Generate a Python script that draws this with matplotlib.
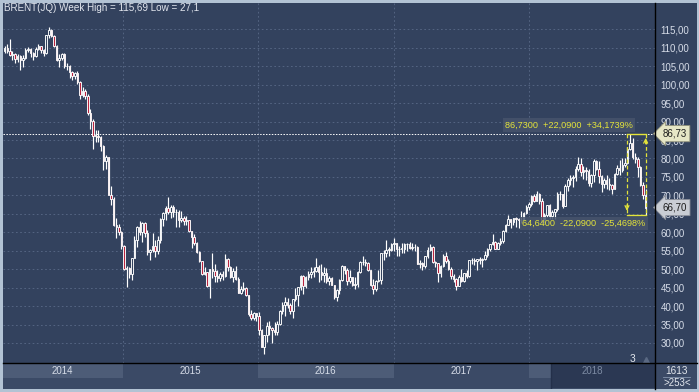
import numpy as np
import pandas as pd
import matplotlib
matplotlib.use("Agg")
import matplotlib.pyplot as plt
import matplotlib.transforms as mtransforms
from matplotlib.patches import Rectangle
from matplotlib.lines import Line2D

W, H = 699, 392

# ---- data: weekly Brent candles, first week starts Monday 2014-02-17 ----
first_week = "2014-02-17"

opens = [
    109.1, 110.0, 109.1, 108.1, 108.4, 106.9, 107.9, 106.7, 107.3, 109.5, 109.6, 108.6, 107.9,
    109.8, 110.5, 109.4, 108.6, 113.4, 114.8, 113.3, 110.6, 106.7, 107.2, 108.4, 105.0, 105.0,
    103.5, 102.3, 103.2, 100.8, 97.1, 98.4, 97.0, 92.3, 90.2, 86.2, 86.1, 85.9, 83.4, 79.4,
    80.4, 70.2, 69.1, 61.9, 61.4,
    60.2, 56.4, 50.1, 50.2, 48.8, 53.0, 57.8, 61.5, 60.2, 62.6, 59.7, 54.7, 55.3, 56.4, 55.0,
    57.9, 63.5, 65.3, 66.5, 65.4, 66.8, 65.4, 65.6, 63.3, 63.9, 63.0, 63.3, 60.3, 58.7, 57.1,
    54.6, 52.2, 48.6, 49.2, 45.5, 50.05, 49.6, 48.1, 47.5, 48.6, 48.1, 52.7, 50.5, 48.0, 49.6,
    47.4, 43.6, 44.7, 44.9, 43.0, 37.9, 36.9,
    38.1, 37.3, 33.6, 28.9, 32.2, 34.7, 34.1, 33.4, 33.0, 35.1, 38.7, 40.4, 41.2, 40.4, 38.7,
    41.9, 43.1, 45.1, 48.1, 45.4, 47.8, 48.7, 49.3, 49.6, 50.5, 49.2, 48.4, 49.0, 46.8, 47.6,
    45.7, 42.5, 44.3, 47.0, 50.9, 49.9, 46.8, 48.0, 45.8, 45.9, 49.2, 51.9, 51.95, 51.8, 49.7,
    45.6, 44.75, 46.9, 47.2, 54.5, 54.3, 55.2, 55.2,
    56.8, 57.1, 55.45, 55.5, 55.5, 56.8, 56.7, 55.8, 56.0, 55.9, 51.4, 51.8, 50.8, 53.5, 55.2,
    55.9, 52.0, 51.7, 49.1, 50.8, 53.6, 52.15, 49.95, 48.15, 47.4, 45.5, 47.9, 46.7, 48.9, 48.1,
    52.5, 52.4, 52.1, 52.7, 52.4, 52.75, 53.8, 55.6, 56.9, 57.5, 55.6, 57.2, 57.75, 60.4, 62.1,
    63.5, 62.7, 63.9, 63.7, 63.4, 63.2, 65.25,
    66.9, 67.6, 69.9, 68.6, 70.5, 68.6, 62.8, 64.8, 67.3, 64.4, 65.5, 66.2, 70.45, 70.3, 67.1,
    72.6, 74.1, 74.6, 74.9, 77.1, 78.5, 76.4, 76.8, 76.5, 73.4, 75.6, 79.4, 77.1, 75.3, 73.1,
    74.3, 73.2, 72.8, 71.8, 75.8, 77.4, 76.8, 78.1, 78.8, 82.7, 84.2, 80.4, 79.8, 77.6, 72.8, 70.2,
]

highs = [
    110.6, 111.0, 112.4, 109.0, 108.5, 108.2, 108.1, 108.0, 110.0, 110.3, 110.0, 108.9, 110.1,
    111.0, 110.6, 109.8, 113.5, 115.69, 115.2, 113.5, 110.7, 108.4, 108.5, 108.7, 106.0, 105.4,
    103.8, 103.3, 103.7, 101.0, 99.3, 98.7, 97.5, 93.4, 90.6, 87.8, 87.6, 86.1, 83.6, 80.9,
    80.5, 72.6, 69.5, 63.8, 62.2,
    60.4, 56.6, 50.8, 50.6, 53.1, 59.1, 61.6, 63.0, 62.7, 62.8, 60.6, 55.5, 59.7, 57.9, 59.0,
    64.0, 65.5, 67.1, 69.6, 67.4, 67.4, 66.2, 66.0, 65.9, 64.5, 64.3, 63.4, 60.3, 59.4, 57.3,
    54.8, 52.3, 50.7, 49.3, 50.1, 54.3, 51.3, 49.9, 49.3, 49.5, 54.1, 53.0, 50.8, 50.3, 50.9,
    48.0, 45.5, 46.6, 45.2, 43.1, 38.9, 38.3,
    38.1, 38.5, 33.7, 32.3, 35.8, 35.9, 34.3, 35.6, 35.9, 39.0, 41.2, 42.5, 42.2, 40.9, 42.0,
    45.0, 45.3, 48.5, 48.3, 48.1, 49.4, 50.5, 50.5, 52.9, 51.0, 51.4, 50.5, 50.3, 48.2, 47.8,
    45.8, 44.7, 47.3, 51.2, 50.9, 50.3, 49.9, 48.0, 47.8, 49.6, 52.1, 53.7, 52.8, 52.0, 49.9,
    47.3, 47.0, 49.9, 54.5, 55.2, 57.9, 55.9, 57.0,
    58.4, 57.2, 56.2, 57.1, 57.2, 57.2, 57.4, 57.0, 56.7, 56.2, 52.5, 52.0, 53.7, 55.9, 56.7,
    56.2, 52.2, 51.8, 51.0, 54.0, 54.7, 52.7, 50.6, 48.7, 47.6, 48.3, 50.0, 49.0, 49.9, 52.5,
    53.0, 53.1, 52.8, 53.2, 53.0, 54.9, 55.7, 56.9, 59.5, 57.6, 57.3, 58.5, 60.5, 62.3, 64.65,
    63.7, 64.0, 64.1, 64.0, 65.8, 65.5, 67.3,
    68.3, 70.05, 70.4, 71.3, 70.6, 69.3, 65.3, 67.4, 67.6, 66.0, 66.4, 71.0, 71.2, 70.3, 73.1,
    74.75, 75.5, 75.5, 78.0, 80.5, 80.0, 77.9, 77.8, 77.2, 75.7, 79.9, 79.5, 79.3, 75.6, 74.6,
    75.5, 74.8, 73.0, 76.0, 78.3, 79.7, 80.1, 80.2, 83.0, 86.73, 85.5, 81.6, 80.5, 77.9, 73.6, 71.6,
]

lows = [
    108.5, 108.6, 107.8, 106.6, 105.9, 106.2, 103.9, 104.9, 106.9, 108.9, 107.6, 106.7, 107.6,
    109.5, 108.5, 107.9, 108.4, 112.7, 112.9, 110.3, 106.5, 104.9, 106.6, 104.5, 104.1, 101.9,
    101.3, 101.5, 100.2, 96.2, 96.7, 96.2, 91.8, 88.1, 82.6, 84.5, 84.6, 82.1, 76.8, 77.2,
    70.1, 67.5, 61.8, 58.5, 59.3,
    55.6, 49.7, 45.2, 47.5, 47.0, 53.0, 56.0, 59.3, 57.5, 58.8, 53.8, 52.5, 54.7, 53.3, 54.2,
    57.1, 61.6, 63.4, 64.9, 63.9, 64.1, 61.5, 61.4, 62.8, 61.9, 61.9, 60.0, 55.8, 56.5, 54.4,
    51.9, 48.4, 48.3, 45.1, 42.2, 47.5, 46.6, 46.5, 46.8, 47.1, 48.0, 49.5, 47.6, 46.6, 47.2,
    43.5, 43.3, 44.2, 42.6, 37.4, 36.1, 36.1,
    35.9, 32.2, 28.8, 27.1, 30.2, 32.2, 30.0, 32.2, 32.3, 34.9, 37.8, 37.3, 39.6, 37.9, 36.8,
    41.5, 40.1, 44.3, 43.4, 44.9, 47.2, 47.6, 48.0, 49.2, 46.6, 47.0, 46.6, 46.3, 45.8, 45.6,
    41.8, 41.5, 43.4, 46.8, 48.6, 45.6, 46.2, 45.5, 44.6, 45.2, 49.0, 51.1, 50.8, 49.6, 45.5,
    43.3, 44.0, 46.6, 46.1, 52.6, 53.4, 53.7, 55.0,
    54.8, 53.6, 53.6, 54.5, 54.5, 54.9, 55.4, 55.3, 54.9, 51.3, 50.3, 49.7, 50.2, 53.0, 55.0,
    51.8, 50.6, 46.6, 47.9, 50.7, 51.6, 49.7, 47.4, 46.6, 44.4, 45.4, 46.6, 46.4, 47.6, 47.9,
    51.4, 51.2, 49.7, 51.5, 50.7, 52.6, 53.3, 54.8, 56.5, 55.4, 55.4, 56.6, 57.1, 60.2, 62.1,
    61.1, 61.9, 61.5, 61.2, 62.4, 63.0, 65.0,
    66.1, 67.2, 68.3, 68.4, 67.6, 62.6, 62.4, 64.2, 63.5, 63.5, 63.6, 65.9, 68.8, 66.6, 67.0,
    71.1, 72.8, 72.3, 73.8, 76.5, 75.3, 74.5, 74.1, 72.6, 72.2, 73.6, 76.8, 73.4, 71.0, 72.0,
    71.8, 71.5, 70.3, 71.6, 75.5, 75.6, 76.3, 77.7, 78.4, 82.2, 79.9, 78.9, 75.1, 72.5, 69.1, 64.64,
]

closes = [
    110.0, 109.1, 108.1, 108.4, 106.9, 107.9, 106.7, 107.3, 109.5, 109.6, 108.6, 107.9, 109.8,
    110.5, 109.4, 108.6, 113.4, 114.8, 113.3, 110.6, 106.7, 107.2, 108.4, 105.0, 105.0, 103.5,
    102.3, 103.2, 100.8, 97.1, 98.4, 97.0, 92.3, 90.2, 86.2, 86.1, 85.9, 83.4, 79.4, 80.4,
    70.2, 69.1, 61.9, 61.4, 60.2,
    56.4, 50.1, 50.2, 48.8, 53.0, 57.8, 61.5, 60.2, 62.6, 59.7, 54.7, 55.3, 56.4, 55.0, 57.9,
    63.5, 65.3, 66.5, 65.4, 66.8, 65.4, 65.6, 63.3, 63.9, 63.0, 63.3, 60.3, 58.7, 57.1, 54.6,
    52.2, 48.6, 49.2, 45.5, 50.05, 49.6, 48.1, 47.5, 48.6, 48.1, 52.7, 50.5, 48.0, 49.6, 47.4,
    43.6, 44.7, 44.9, 43.0, 37.9, 36.9, 38.1,
    37.3, 33.6, 28.9, 32.2, 34.7, 34.1, 33.4, 33.0, 35.1, 38.7, 40.4, 41.2, 40.4, 38.7, 41.9,
    43.1, 45.1, 48.1, 45.4, 47.8, 48.7, 49.3, 49.6, 50.5, 49.2, 48.4, 49.0, 46.8, 47.6, 45.7,
    42.5, 44.3, 47.0, 50.9, 49.9, 46.8, 48.0, 45.8, 45.9, 49.2, 51.9, 51.95, 51.8, 49.7, 45.6,
    44.75, 46.9, 47.2, 54.5, 54.3, 55.2, 55.2, 56.8,
    57.1, 55.45, 55.5, 55.5, 56.8, 56.7, 55.8, 56.0, 55.9, 51.4, 51.8, 50.8, 53.5, 55.2, 55.9,
    52.0, 51.7, 49.1, 50.8, 53.6, 52.15, 49.95, 48.15, 47.4, 45.5, 47.9, 46.7, 48.9, 48.1, 52.5,
    52.4, 52.1, 52.7, 52.4, 52.75, 53.8, 55.6, 56.9, 57.5, 55.6, 57.2, 57.75, 60.4, 62.1, 63.5,
    62.7, 63.9, 63.7, 63.4, 63.2, 65.25, 66.9,
    67.6, 69.9, 68.6, 70.5, 68.6, 62.8, 64.8, 67.3, 64.4, 65.5, 66.2, 70.45, 70.3, 67.1, 72.6,
    74.1, 74.6, 74.9, 77.1, 78.5, 76.4, 76.8, 76.5, 73.4, 75.6, 79.4, 77.1, 75.3, 73.1, 74.3,
    73.2, 72.8, 71.8, 75.8, 77.4, 76.8, 78.1, 78.8, 82.7, 84.2, 80.4, 79.8, 77.6, 72.8, 70.2, 66.7,
]

price_ticks = list(range(30, 120, 5))
years = [2014, 2015, 2016, 2017, 2018]
measure_hi = 86.73
measure_lo = 64.64
last_price = 66.70
title = "BRENT(JQ) Week High = 115,69 Low = 27,1"
bar_total = "1613"
bars_shown = ">253<"

# ---- colours ----
BG = "#33425e"
BAND_DARK = "#3b4a66"
BAND_LIGHT = "#4d5c77"
GRID = "#5a6a88"
TXT = "#d6dce8"
YEL = "#e4e43a"
RED = "#b8243f"
FONT = "Liberation Sans"


def fx(px):
    return px / W


def fy(py):
    return 1 - py / H


def comma(v, nd):
    return f"{v:.{nd}f}".replace(".", ",")


o = np.array(opens)
h = np.array(highs)
l = np.array(lows)
c = np.array(closes)
dates = pd.date_range(first_week, periods=len(c), freq="7D")
t0 = dates[0]
x = np.asarray((dates - t0).days / 7.0)
year_edges = [(pd.Timestamp(f"{y}-01-01") - t0).days / 7.0 for y in years[1:]]

xlo, xhi = -0.66, 250.6
ylo, yhi = 24.58, 122.13

fig = plt.figure(figsize=(W / 100, H / 100), dpi=100, facecolor="#b3c3d4")

# right price panel + bottom-right cell backgrounds
fig.add_artist(Rectangle((fx(655), fy(363)), fx(42), 360 / H, transform=fig.transFigure,
                         fc=BG, ec="none", zorder=0))
fig.add_artist(Rectangle((fx(655), fy(389)), fx(42), 26 / H, transform=fig.transFigure,
                         fc=BAND_DARK, ec="none", zorder=0))

ax = fig.add_axes([fx(3), fy(363), fx(652), 360 / H])
ax.set_facecolor(BG)
ax.set_xlim(xlo, xhi)
ax.set_ylim(ylo, yhi)
for s in ax.spines.values():
    s.set_visible(False)
ax.set_xticks([])
ax.yaxis.tick_right()
ax.set_yticks(price_ticks)
ax.set_yticklabels([comma(v, 2) for v in price_ticks], fontsize=7, color=TXT, family=FONT)
ax.tick_params(axis="y", length=0, pad=4)

for v in price_ticks:
    ax.axhline(v, color=GRID, lw=0.6, ls=(0, (2, 3)), zorder=1)
for e in year_edges:
    ax.axvline(e, color=GRID, lw=0.6, ls=(0, (2, 3)), zorder=1)

# candles
up = c >= o
ax.vlines(x, l, h, color="white", lw=0.85, zorder=3)
body_lo = np.minimum(o, c)
body_h = np.maximum(np.abs(c - o), 0.15)
ax.bar(x, body_h, bottom=body_lo, width=0.58, color=np.where(up, BG, RED),
       edgecolor="white", linewidth=0.65, zorder=4)

# dotted line at the measured high
ax.axhline(measure_hi, color="white", lw=0.7, ls=(0, (1.5, 1.5)), zorder=5)

# yellow measure box
n = len(c)
i_top = n - 10 + int(np.argmax(h[-10:]))
i_end = n - 1
left = x[i_top] - 1.2
right = x[i_end]
ax.plot([left, right], [measure_hi, measure_hi], color=YEL, lw=1.0, zorder=6)
ax.plot([left, right], [measure_lo, measure_lo], color=YEL, lw=1.0, zorder=6)
ax.plot([left, left], [measure_hi, measure_lo], color=YEL, lw=0.9, ls=(0, (3, 2)), zorder=6)
ax.plot([right, right], [measure_hi, measure_lo], color=YEL, lw=0.9, ls=(0, (3, 2)), zorder=6)
ax.annotate("", xy=(left, measure_lo + 0.4), xytext=(left, measure_lo + 3.5),
            arrowprops=dict(arrowstyle="->", color=YEL, lw=0.9, mutation_scale=7), zorder=7)
ax.annotate("", xy=(right, measure_hi - 0.4), xytext=(right, measure_hi - 3.5),
            arrowprops=dict(arrowstyle="->", color=YEL, lw=0.9, mutation_scale=7), zorder=7)

diff = measure_hi - measure_lo
txt_up = f"{comma(measure_hi, 4)}  +{comma(diff, 4)}  +{comma(diff / measure_lo * 100, 4)}%"
txt_dn = f"{comma(measure_lo, 4)}  -{comma(diff, 4)}  -{comma(diff / measure_hi * 100, 4)}%"
box = dict(boxstyle="square,pad=0.25", fc="#46536b", ec="none", alpha=0.85)
ax.annotate(txt_up, xy=(x[i_top] + 1.0, measure_hi), xytext=(0, 6.3), textcoords="offset points",
            ha="right", va="center", fontsize=6.6, color=YEL, family=FONT, bbox=box, zorder=8)
ax.annotate(txt_dn, xy=(right, measure_lo), xytext=(0, -6), textcoords="offset points",
            ha="right", va="center", fontsize=6.6, color=YEL, family=FONT, bbox=box, zorder=8)

# price tags on the right axis (they sit over the 85,00 / 65,00 labels as in the terminal)
tr = mtransforms.blended_transform_factory(ax.transAxes, ax.transData)
ax.text(1.0115, measure_hi, comma(measure_hi, 2), transform=tr, fontsize=7, color="#1c1c1c",
        family=FONT, va="center", ha="left", zorder=9, clip_on=False,
        bbox=dict(boxstyle="larrow,pad=0.32", fc="#e6e6c6", ec="#8e8e78", lw=0.6))
ax.text(1.0115, last_price, comma(last_price, 2), transform=tr, fontsize=7, color="#1c1c1c",
        family=FONT, va="center", ha="left", zorder=9, clip_on=False,
        bbox=dict(boxstyle="larrow,pad=0.32", fc="#c9cdd4", ec="#8a8e98", lw=0.6))

# small marker at the bottom of the plot
ax.text(x[i_top] + 0.9, 25.7, "3", fontsize=7.3, color="#e4e8ee", family=FONT, ha="center", va="center")
ax.plot([x[i_end]], [25.5], marker="^", ms=4, color="#5a6983", zorder=2)

# title
fig.text(fx(4), fy(8), title, fontsize=7.1, color="#e2e6ee", family=FONT, ha="left", va="center")

# year strip
axb = fig.add_axes([fx(3), fy(389), fx(652), 26 / H])
axb.set_facecolor(BAND_DARK)
axb.set_xlim(xlo, xhi)
axb.set_ylim(0, 1)
axb.set_xticks([])
axb.set_yticks([])
for s in axb.spines.values():
    s.set_visible(False)
bounds = [xlo] + year_edges + [xhi]
for k, yr in enumerate(years):
    a, b = bounds[k], bounds[k + 1]
    if k % 2 == 0:
        axb.axvspan(a, b, ymin=0.435, ymax=0.95, color=BAND_LIGHT, lw=0, zorder=1)
    axb.text((a + b) / 2, 0.69, str(yr), fontsize=7, family=FONT, ha="center", va="center",
             color="#7d8ba3" if yr == years[-1] else TXT, zorder=5)
# darker scroll overlay over the last part of 2018
axb.add_patch(Rectangle((fx(551), fy(388)), fx(104), 24 / H, transform=fig.transFigure,
                        fc="#2b3853", ec="none", zorder=2, clip_on=False))
axb.add_line(Line2D([fx(551), fx(551)], [fy(388), fy(364)], transform=fig.transFigure,
                    color="#24304a", lw=1.0, zorder=3))

# bottom-right counter cell
fig.text(fx(677), fy(370.7), bar_total, fontsize=7.2, color="#e4e8ee", family=FONT, ha="center", va="center")
fig.add_artist(Line2D([fx(663), fx(690)], [fy(377), fy(377)], color="#8696ae", lw=0.6))
fig.text(fx(677), fy(383.5), bars_shown, fontsize=7, color="#e4e8ee", family=FONT, ha="center", va="center")

# black separators
fig.add_artist(Line2D([fx(655), fx(655)], [fy(389), fy(3)], color="black", lw=1.0, zorder=10))
fig.add_artist(Line2D([fx(3), fx(697)], [fy(363), fy(363)], color="black", lw=1.0, zorder=10))

fig.savefig("out.png", dpi=100, facecolor=fig.get_facecolor())
